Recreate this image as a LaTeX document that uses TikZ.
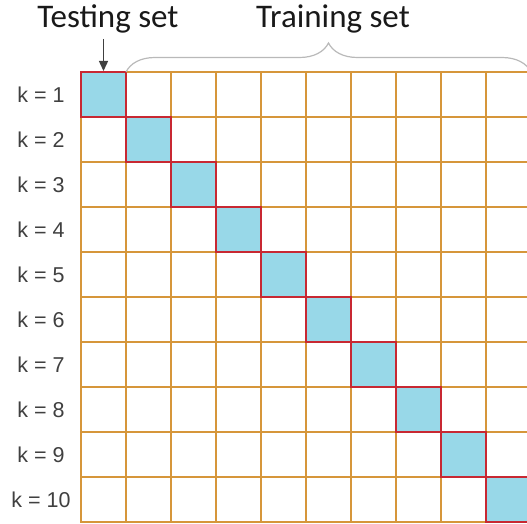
\documentclass[tikz,border=0pt]{standalone}
\usepackage{fontspec}
\setmainfont{Carlito}
\newfontfamily\labelfont{Liberation Sans}
\usetikzlibrary{arrows.meta,positioning,decorations.pathreplacing}
\definecolor{gridorange}{RGB}{214,150,58}
\definecolor{testblue}{RGB}{152,216,232}
\definecolor{testred}{RGB}{200,40,50}
\definecolor{bracegray}{RGB}{185,185,185}
\definecolor{labelgray}{RGB}{64,64,64}

\begin{document}
\begin{tikzpicture}[x=1pt,y=-1pt,
  cell/.style={draw=gridorange,line width=1.4pt,minimum size=45pt,inner sep=0pt,outer sep=0pt},
  testcell/.style={cell,draw=testred,fill=testblue},
  klabel/.style={font=\labelfont\fontsize{21.5}{24}\selectfont,text=labelgray},
  title/.style={font=\fontsize{33}{36}\selectfont,anchor=base,text=black!90}]
\useasboundingbox (0,0) rectangle (527,524);
\clip (0,0) rectangle (527,524);
% grid of folds
\foreach \r in {1,...,10} {
  \node[klabel] (k\r) at (41,49.5+45*\r) {k = \r};
  \foreach \c in {1,...,10}
    \node[cell] (c\r-\c) at (58.5+45*\c,49.5+45*\r) {};
}
% held-out fold of each round
\foreach \r in {1,...,10}
  \node[testcell] (t\r) at (c\r-\r) {};
\node[title] (test) at (108,28) {Testing set};
\node[title] (train) at (333,28) {Training set};
\coordinate (arrowtop) at ([yshift=33pt]t1.north);
\draw[-{Triangle[length=10pt,width=9pt]},line width=1.4pt,labelgray,shorten >=1pt] (arrowtop) -- (t1.north);
\draw[decorate,decoration={brace,amplitude=29pt},bracegray,line width=1.2pt] (c1-2.north west) -- (c1-10.north east);
\end{tikzpicture}
\end{document}
